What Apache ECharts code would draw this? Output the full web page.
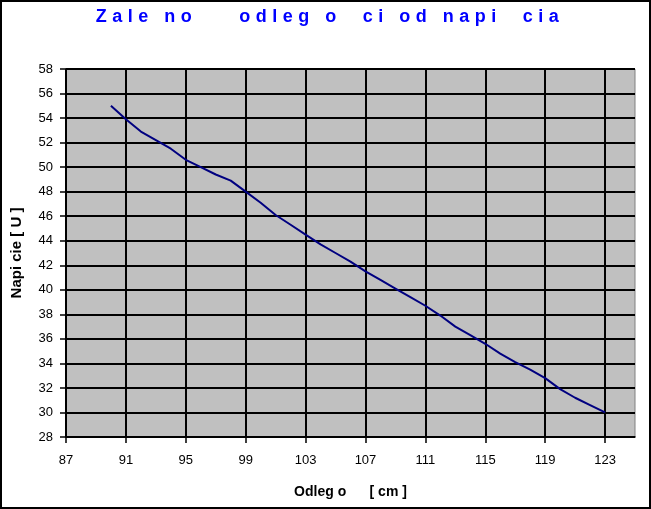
<!DOCTYPE html>
<html>
<head>
<meta charset="utf-8">
<script src="https://cdn.jsdelivr.net/npm/echarts@6/dist/echarts.min.js"></script>
<style>
html,body{margin:0;padding:0;background:#fff;}
#c{width:651px;height:509px;}
</style>
</head>
<body>
<div id="c"></div>
<script>
// Data
const titleText = 'Zale no    odleg o  ci od napi  cia';
const xAxisTitle = 'Odleg o      [ cm ]';
const yAxisTitle = 'Napi cie [ U ]';
const distanceCm = [90,91,92,93,94,95,96,97,98,99,100,101,102,103,104,105,106,107,108,109,110,111,112,113,114,115,116,117,118,119,120,121,122,123];
const voltageU =   [55.0,53.9,52.9,52.2,51.5,50.6,50.0,49.4,48.9,48.0,47.1,46.1,45.3,44.5,43.7,43.0,42.3,41.5,40.8,40.1,39.4,38.7,37.9,37.0,36.3,35.6,34.8,34.1,33.5,32.8,31.9,31.2,30.6,30.0];
const xTickLabels = [87,91,95,99,103,107,111,115,119,123];
const yTickLabels = [28,30,32,34,36,38,40,42,44,46,48,50,52,54,56,58];

const font = 'Arial, "Liberation Sans", sans-serif';
const chart = echarts.init(document.getElementById('c'), null, {renderer:'canvas'});
const option = {
  animation:false,
  backgroundColor:'#ffffff',
  graphic:[
    {type:'rect', shape:{x:1,y:1,width:649,height:507}, style:{fill:'none', stroke:'#000', lineWidth:2}, silent:true},
    {type:'text', zlevel:1, x:330, y:17, style:{text:titleText, textAlign:'center', textVerticalAlign:'middle', fill:'#0000ff', font:'bold 18px ' + font}}
  ],
  grid:{left:66, right:16, top:69, bottom:72, show:true, backgroundColor:'#c0c0c0', borderColor:'#808080', borderWidth:1},
  xAxis:{
    type:'value', min:87, max:125, interval:4,
    name:xAxisTitle, nameLocation:'middle', nameGap:48,
    nameTextStyle:{color:'#000', fontWeight:'bold', fontSize:14, fontFamily:font},
    axisLine:{show:true, onZero:false, lineStyle:{color:'#000', width:1.5}},
    axisTick:{show:true, length:6, lineStyle:{color:'#000', width:1.5}, customValues:xTickLabels},
    axisLabel:{color:'#000', fontSize:13, fontFamily:font, margin:17, customValues:xTickLabels},
    splitLine:{show:true, lineStyle:{color:'#000', width:2}}
  },
  yAxis:{
    type:'value', min:28, max:58, interval:2,
    name:yAxisTitle, nameLocation:'middle', nameGap:42, nameRotate:90,
    nameTextStyle:{color:'#000', fontWeight:'bold', fontSize:15, fontFamily:font},
    axisLine:{show:true, onZero:false, lineStyle:{color:'#000', width:1.5}},
    axisTick:{show:true, length:6, lineStyle:{color:'#000', width:1.5}},
    axisLabel:{color:'#000', fontSize:13, fontFamily:font, margin:13, formatter:function(v){return yTickLabels.indexOf(v)>=0 ? String(v) : '';}},
    splitLine:{show:true, lineStyle:{color:'#000', width:2}}
  },
  series:[{
    type:'line', data:distanceCm.map((x,i)=>[x, voltageU[i]]),
    showSymbol:false, symbol:'none', smooth:false,
    lineStyle:{color:'#000080', width:2}
  }]
};
chart.setOption(option);
try{
  const zr = chart.getZr();
  const layer = zr.painter.getLayer(1);
  if (layer && layer.ctx) { layer.ctx.letterSpacing = '5.5px'; }
  zr.painter.refresh(true);
}catch(e){}
</script>
</body>
</html>
